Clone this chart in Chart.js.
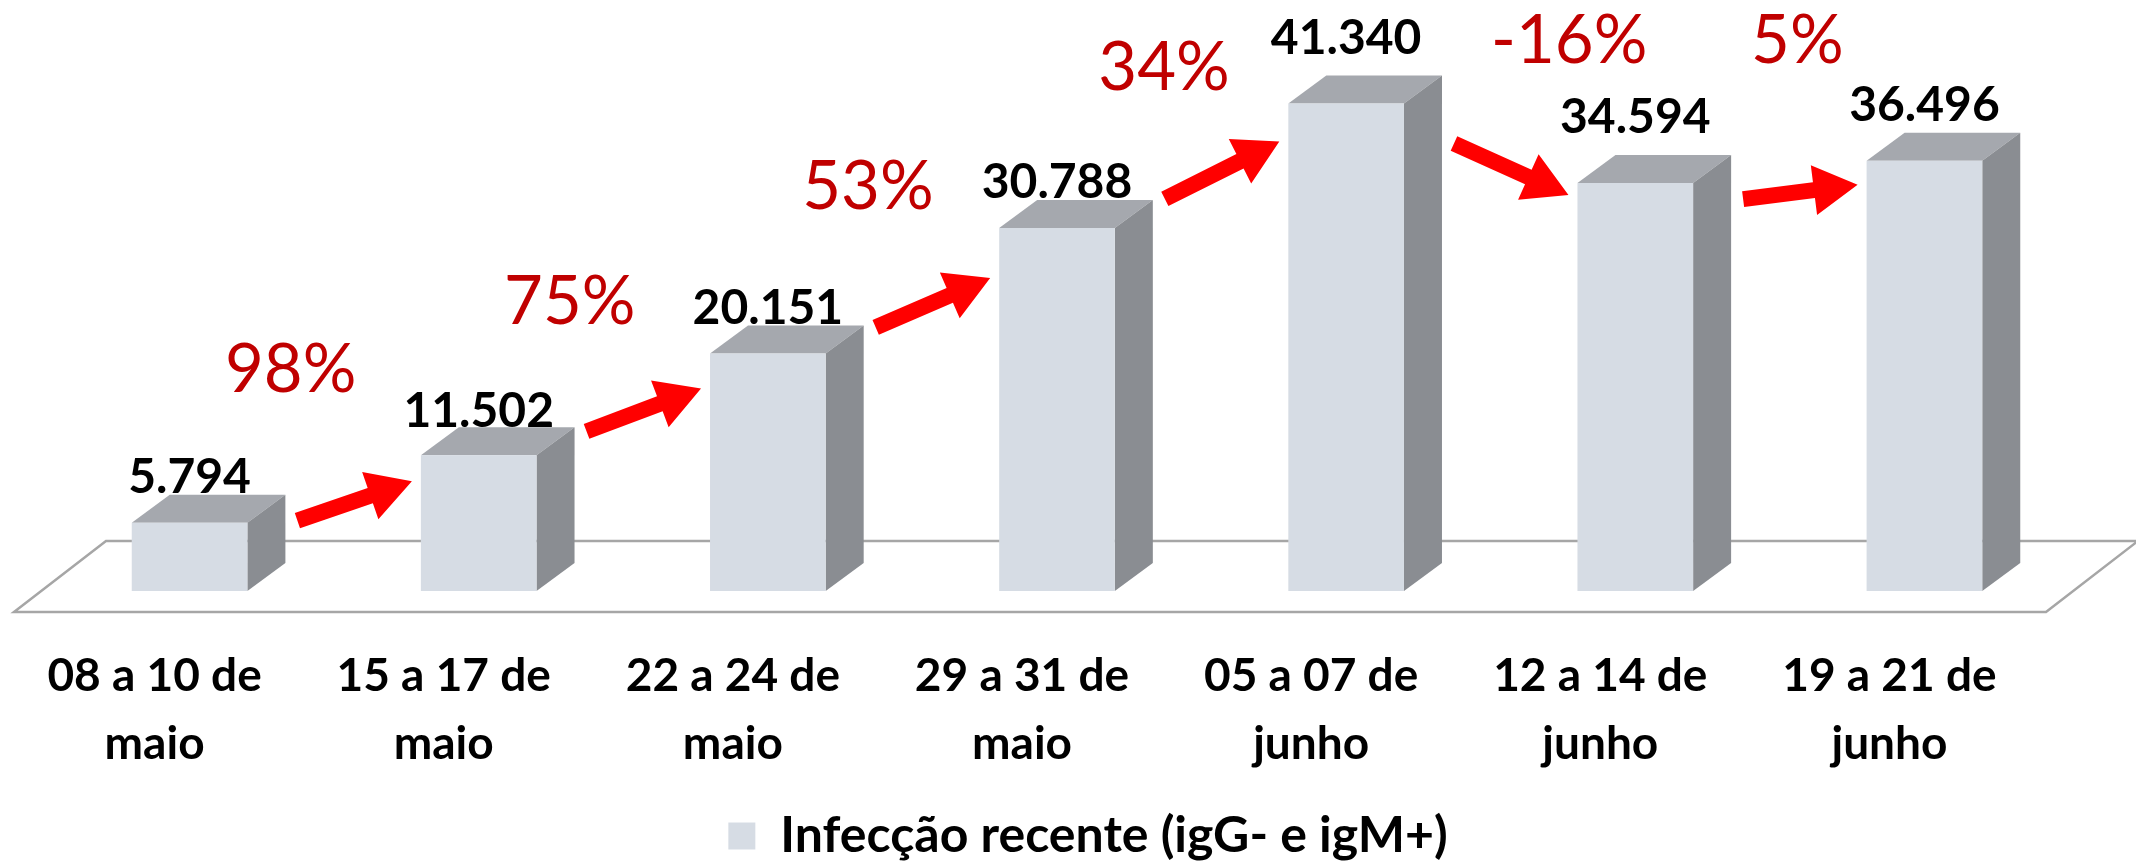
<!DOCTYPE html>
<html>
<head>
<meta charset="utf-8">
<script src="https://cdn.jsdelivr.net/npm/chart.js@4.4.0/dist/chart.umd.min.js"></script>
<style>
  html, body { margin: 0; padding: 0; background: #fff; }
  #wrap { width: 2136px; height: 861px; position: relative; }
</style>
</head>
<body>
<div id="wrap"><canvas id="chart"></canvas></div>
<script>
// dados
const categories = [
  ['08 a 10 de', 'maio'],
  ['15 a 17 de', 'maio'],
  ['22 a 24 de', 'maio'],
  ['29 a 31 de', 'maio'],
  ['05 a 07 de', 'junho'],
  ['12 a 14 de', 'junho'],
  ['19 a 21 de', 'junho']
];
const seriesName = 'Infecção recente (igG- e igM+)';
const values = [5794, 11502, 20151, 30788, 41340, 34594, 36496];
const changes = ['98%', '75%', '53%', '34%', '-16%', '5%'];

const FRONT = '#D6DCE4';
const TOP = '#A5A8AE';
const SIDE = '#8A8D92';

// formata 5794 -> 5.794
function fmt(v) {
  return String(v).replace(/\B(?=(\d{3})+(?!\d))/g, '.');
}

function drawArrow(ctx, x1, y1, x2, y2) {
  const ang = Math.atan2(y2 - y1, x2 - x1);
  const len = Math.hypot(x2 - x1, y2 - y1);
  const shaft = 8, head = 25, headLen = 44;
  ctx.save();
  ctx.translate(x1, y1);
  ctx.rotate(ang);
  ctx.beginPath();
  ctx.moveTo(0, -shaft);
  ctx.lineTo(len - headLen, -shaft);
  ctx.lineTo(len - headLen, -head);
  ctx.lineTo(len, 0);
  ctx.lineTo(len - headLen, head);
  ctx.lineTo(len - headLen, shaft);
  ctx.lineTo(0, shaft);
  ctx.closePath();
  ctx.fill();
  ctx.restore();
}

const bar3d = {
  id: 'bar3d',
  beforeDatasetsDraw(chart, args, opts) {
    const ctx = chart.ctx;
    const area = chart.chartArea;
    const base = chart.scales.y.getPixelForValue(0);
    const dx = opts.depthX, dy = opts.depthY;

    // piso
    ctx.save();
    ctx.strokeStyle = '#A6A6A6';
    ctx.lineWidth = 2.5;
    ctx.beginPath();
    ctx.moveTo(area.left - 31, base + 21);
    ctx.lineTo(area.right - 23, base + 21);
    ctx.lineTo(area.right + 69, base - 50);
    ctx.lineTo(area.left + 61, base - 50);
    ctx.closePath();
    ctx.stroke();

    // topo e lateral das barras
    chart.getDatasetMeta(0).data.forEach(bar => {
      const p = bar.getProps(['x', 'y', 'width', 'base'], true);
      const l = p.x - p.width / 2, r = p.x + p.width / 2;
      ctx.fillStyle = TOP;
      ctx.beginPath();
      ctx.moveTo(l, p.y);
      ctx.lineTo(l + dx, p.y - dy);
      ctx.lineTo(r + dx, p.y - dy);
      ctx.lineTo(r, p.y);
      ctx.closePath();
      ctx.fill();
      ctx.fillStyle = SIDE;
      ctx.beginPath();
      ctx.moveTo(r, p.y);
      ctx.lineTo(r + dx, p.y - dy);
      ctx.lineTo(r + dx, p.base - dy);
      ctx.lineTo(r, p.base);
      ctx.closePath();
      ctx.fill();
    });
    ctx.restore();
  },
  afterDatasetsDraw(chart, args, opts) {
    const ctx = chart.ctx;
    const bars = chart.getDatasetMeta(0).data;
    ctx.save();

    // valores
    ctx.fillStyle = '#000';
    ctx.font = 'bold 48px Lato';
    ctx.textAlign = 'center';
    ctx.textBaseline = 'middle';
    bars.forEach((bar, i) => {
      ctx.fillText(fmt(values[i]), bar.x, bar.y - opts.labelLift[i]);
    });

    // setas e variações
    ctx.font = '67px Lato';
    for (let i = 0; i < bars.length - 1; i++) {
      const a = bars[i], b = bars[i + 1];
      const x1 = a.x + a.width / 2 + opts.depthX + 12;
      const y1 = a.y + opts.arrowDy[i][0];
      const x2 = b.x - b.width / 2 - 9;
      const y2 = b.y + opts.arrowDy[i][1];
      ctx.fillStyle = '#FF0000';
      drawArrow(ctx, x1, y1, x2, y2);
      ctx.fillStyle = '#C00000';
      const mx = (x1 + x2) / 2, my = (y1 + y2) / 2;
      ctx.fillText(changes[i], mx + opts.changePos[i][0], my + opts.changePos[i][1]);
    }
    ctx.restore();
  }
};

new Chart(document.getElementById('chart'), {
  type: 'bar',
  data: {
    labels: categories,
    datasets: [{
      label: seriesName,
      data: values,
      backgroundColor: FRONT,
      borderWidth: 0,
      categoryPercentage: 1,
      barPercentage: 0.4
    }]
  },
  options: {
    responsive: true,
    maintainAspectRatio: false,
    animation: false,
    layout: { padding: { left: 45, right: 5, top: 0, bottom: -10 } },
    scales: {
      x: {
        grid: { display: false, drawTicks: false },
        border: { display: false },
        ticks: {
          color: '#000',
          font: { family: 'Lato', weight: 'bold', size: 46, lineHeight: 1.46 },
          padding: 52,
          labelOffset: -35,
          maxRotation: 0,
          autoSkip: false
        },
        afterFit(scale) { scale.height = 210; }
      },
      y: {
        position: 'right',
        min: 0,
        max: 50120,
        grid: { display: false, drawTicks: false },
        border: { display: false },
        ticks: { display: false },
        afterFit(scale) { scale.width = 62; }
      }
    },
    plugins: {
      legend: {
        position: 'bottom',
        labels: {
          color: '#000',
          boxWidth: 27,
          boxHeight: 27,
          padding: 10,
          font: { family: 'Lato', weight: 'bold', size: 50 }
        }
      },
      tooltip: { enabled: false },
      bar3d: {
        depthX: 38,
        depthY: 28,
        labelLift: [45, 44, 45, 45, 65, 66, 55],
        arrowDy: [[-2, 26], [-24, 35], [-26, 50], [-29, 38], [40, 12], [16, 24]],
        changePos: [[-64, -131], [-74, -107], [-65, -115], [-58, -102], [58, -128], [-3, -150]]
      }
    }
  },
  plugins: [bar3d]
});
</script>
</body>
</html>
